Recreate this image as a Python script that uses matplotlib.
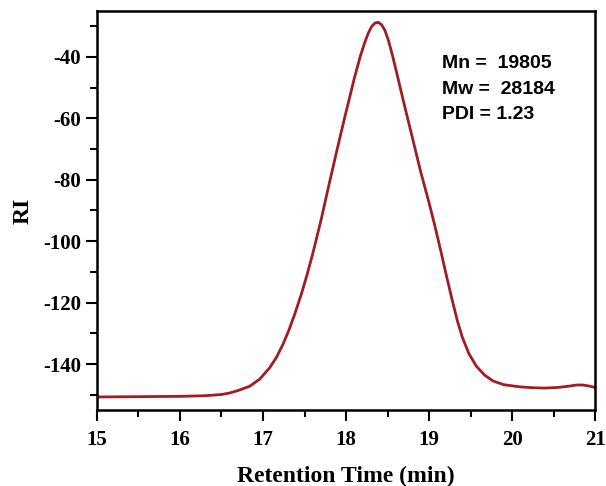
import matplotlib.pyplot as plt
from matplotlib.ticker import MultipleLocator

plt.rcParams['axes.unicode_minus'] = False

# values
time = [15.0, 15.5, 16.0, 16.3, 16.5, 16.6, 16.7, 16.84, 16.96, 17.08, 17.16, 17.24,
        17.31, 17.38, 17.46, 17.53, 17.6, 17.7, 17.8, 17.92, 18.0, 18.05, 18.1,
        18.17, 18.23, 18.27, 18.31, 18.35, 18.39, 18.43, 18.47, 18.51, 18.56,
        18.62, 18.71, 18.81, 18.9, 19.0, 19.07, 19.14, 19.21, 19.28, 19.34, 19.4,
        19.48, 19.57, 19.67, 19.77, 19.9, 20.09, 20.25, 20.4, 20.55, 20.68, 20.78,
        20.85, 20.92, 21.0]
ri = [-150.7, -150.6, -150.5, -150.3, -149.9, -149.4, -148.6, -147.2, -144.9, -141.2,
      -137.9, -133.6, -129.1, -123.9, -117.4, -111.0, -104.0, -93.0, -81.0, -67.0,
      -58.0, -52.5, -47.0, -40.0, -35.0, -32.2, -30.1, -29.0, -28.8, -29.6,
      -31.5, -34.6, -39.6, -46.3, -56.5, -67.5, -77.5, -87.5, -95.0, -103.0,
      -111.3, -119.3, -125.8, -131.2, -136.6, -140.7, -143.6, -145.5, -146.7,
      -147.4, -147.7, -147.8, -147.6, -147.2, -146.8, -146.8, -147.1, -147.6]

stats = ["Mn =  19805", "Mw =  28184", "PDI = 1.23"]

fig = plt.figure(figsize=(6.06, 4.86), dpi=100)
ax = fig.add_axes([0.160, 0.156, 0.822, 0.822])

ax.plot(time, ri, color="#A21C24", lw=2.0, solid_joinstyle="round")

ax.set_xlim(15, 21)
ax.set_ylim(-155, -25)
ax.xaxis.set_major_locator(MultipleLocator(1))
ax.xaxis.set_minor_locator(MultipleLocator(0.5))
ax.yaxis.set_major_locator(MultipleLocator(20))
ax.yaxis.set_minor_locator(MultipleLocator(10))
ax.tick_params(which="both", direction="out", width=1.5, top=False, right=False)
ax.tick_params(which="major", length=8)
ax.tick_params(which="minor", length=5)
ax.tick_params(axis="x", which="major", pad=6)
for s in ax.spines.values():
    s.set_linewidth(1.8)

for lab in ax.get_xticklabels() + ax.get_yticklabels():
    lab.set_fontfamily("Liberation Serif")
    lab.set_fontweight("bold")
    lab.set_fontsize(15)

ax.set_xlabel("Retention Time (min)", fontfamily="Liberation Serif",
              fontweight="bold", fontsize=17, labelpad=12)
ax.set_ylabel("RI", fontfamily="Liberation Serif", fontweight="bold",
              fontsize=17, labelpad=7)

for i, s in enumerate(stats):
    ax.text(0.692, 0.856 - i * 0.064, s, transform=ax.transAxes,
            fontfamily="Liberation Sans", fontweight="bold", fontsize=14,
            va="baseline", ha="left")

fig.savefig("out.png", dpi=100)
